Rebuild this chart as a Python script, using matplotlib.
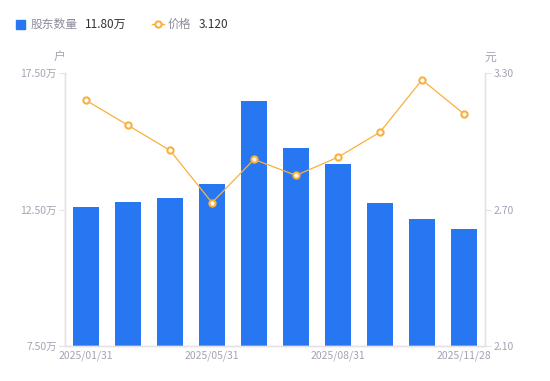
import matplotlib
matplotlib.use("Agg")
import matplotlib.pyplot as plt
from matplotlib.lines import Line2D
from matplotlib.patches import Rectangle
import numpy as np

plt.rcParams["font.family"] = ["Noto Sans CJK SC", "DejaVu Sans"]

# ---------------------------------------------------------------------------
# Data
# ---------------------------------------------------------------------------
DATES = ["2025/01/31", "2025/03/31", "2025/04/30", "2025/05/31", "2025/06/30",
         "2025/07/31", "2025/08/31", "2025/09/30", "2025/10/31", "2025/11/28"]
HOLDERS = [12.59, 12.77, 12.92, 13.43, 16.47, 14.75, 14.17, 12.73, 12.15, 11.80]  # 万户
PRICE = [3.18, 3.07, 2.96, 2.73, 2.92, 2.85, 2.93, 3.04, 3.27, 3.12]             # 元
LEFT_TICKS = [7.5, 12.5, 17.5]
RIGHT_TICKS = [2.10, 2.70, 3.30]
SHOWN = [0, 3, 6, 9]

BLUE = "#2877F2"
ORANGE = "#F9B13C"
GREY = "#A3A3B5"
SPINE = "#E3E3E8"

x = np.arange(len(DATES))

fig = plt.figure(figsize=(5.5, 3.81), dpi=100)
ax = fig.add_axes([65 / 550, 35 / 381, 420 / 550, 273 / 381])
ax2 = ax.twinx()

ax.bar(x, HOLDERS, width=0.6, color=BLUE, zorder=2)
ax.set_xlim(-0.5, len(DATES) - 0.5)
ax.set_ylim(LEFT_TICKS[0], LEFT_TICKS[-1])
ax.set_yticks(LEFT_TICKS)
ax.set_yticklabels([f"{v:.2f}万" for v in LEFT_TICKS])
ax.set_xticks(x[SHOWN])
ax.set_xticklabels([DATES[i] for i in SHOWN])

ax2.plot(x, PRICE, color=ORANGE, linewidth=0.9, marker="o", markersize=4.5,
         markerfacecolor="white", markeredgecolor=ORANGE, markeredgewidth=1.5, zorder=3)
ax2.set_ylim(RIGHT_TICKS[0], RIGHT_TICKS[-1])
ax2.set_yticks(RIGHT_TICKS)
ax2.set_yticklabels([f"{v:.2f}" for v in RIGHT_TICKS])

for a in (ax, ax2):
    a.spines["top"].set_visible(False)
    for s in ("left", "right", "bottom"):
        a.spines[s].set_color(SPINE)
        a.spines[s].set_linewidth(1)
    a.tick_params(axis="y", colors=GREY, labelsize=7.5, length=4, width=0.8, pad=2)
    a.tick_params(axis="x", colors=GREY, labelsize=7.5, length=0, pad=3)
    for lbl in a.get_yticklabels() + a.get_xticklabels():
        lbl.set_color(GREY)
ax.tick_params(axis="y", color=SPINE)
ax2.tick_params(axis="y", color=SPINE)

# unit labels
fig.text(59 / 550, 1 - 57 / 381, "户", color=GREY, fontsize=8.5, ha="center", va="center")
fig.text(490 / 550, 1 - 57 / 381, "元", color=GREY, fontsize=8.5, ha="center", va="center")

# legend
ly = 1 - 24 / 381
fig.patches.append(Rectangle((16 / 550, ly - 4.5 / 381), 9 / 550, 9 / 381,
                             transform=fig.transFigure, color=BLUE, figure=fig))
fig.text(31 / 550, ly, "股东数量", color="#8C8C9A", fontsize=8.5, va="center")
fig.text(85 / 550, ly, "11.80万", color="#333333", fontsize=8.5, va="center")
fig.lines.append(Line2D([152 / 550, 164 / 550], [ly, ly], transform=fig.transFigure,
                        color=ORANGE, linewidth=1))
fig.lines.append(Line2D([158 / 550], [ly], transform=fig.transFigure, color=ORANGE,
                        marker="o", markersize=4.5, markerfacecolor="white",
                        markeredgecolor=ORANGE, markeredgewidth=1.5, linestyle="none"))
fig.text(168 / 550, ly, "价格", color="#8C8C9A", fontsize=8.5, va="center")
fig.text(199 / 550, ly, "3.120", color="#333333", fontsize=8.5, va="center")

fig.savefig("out.png", dpi=100)
